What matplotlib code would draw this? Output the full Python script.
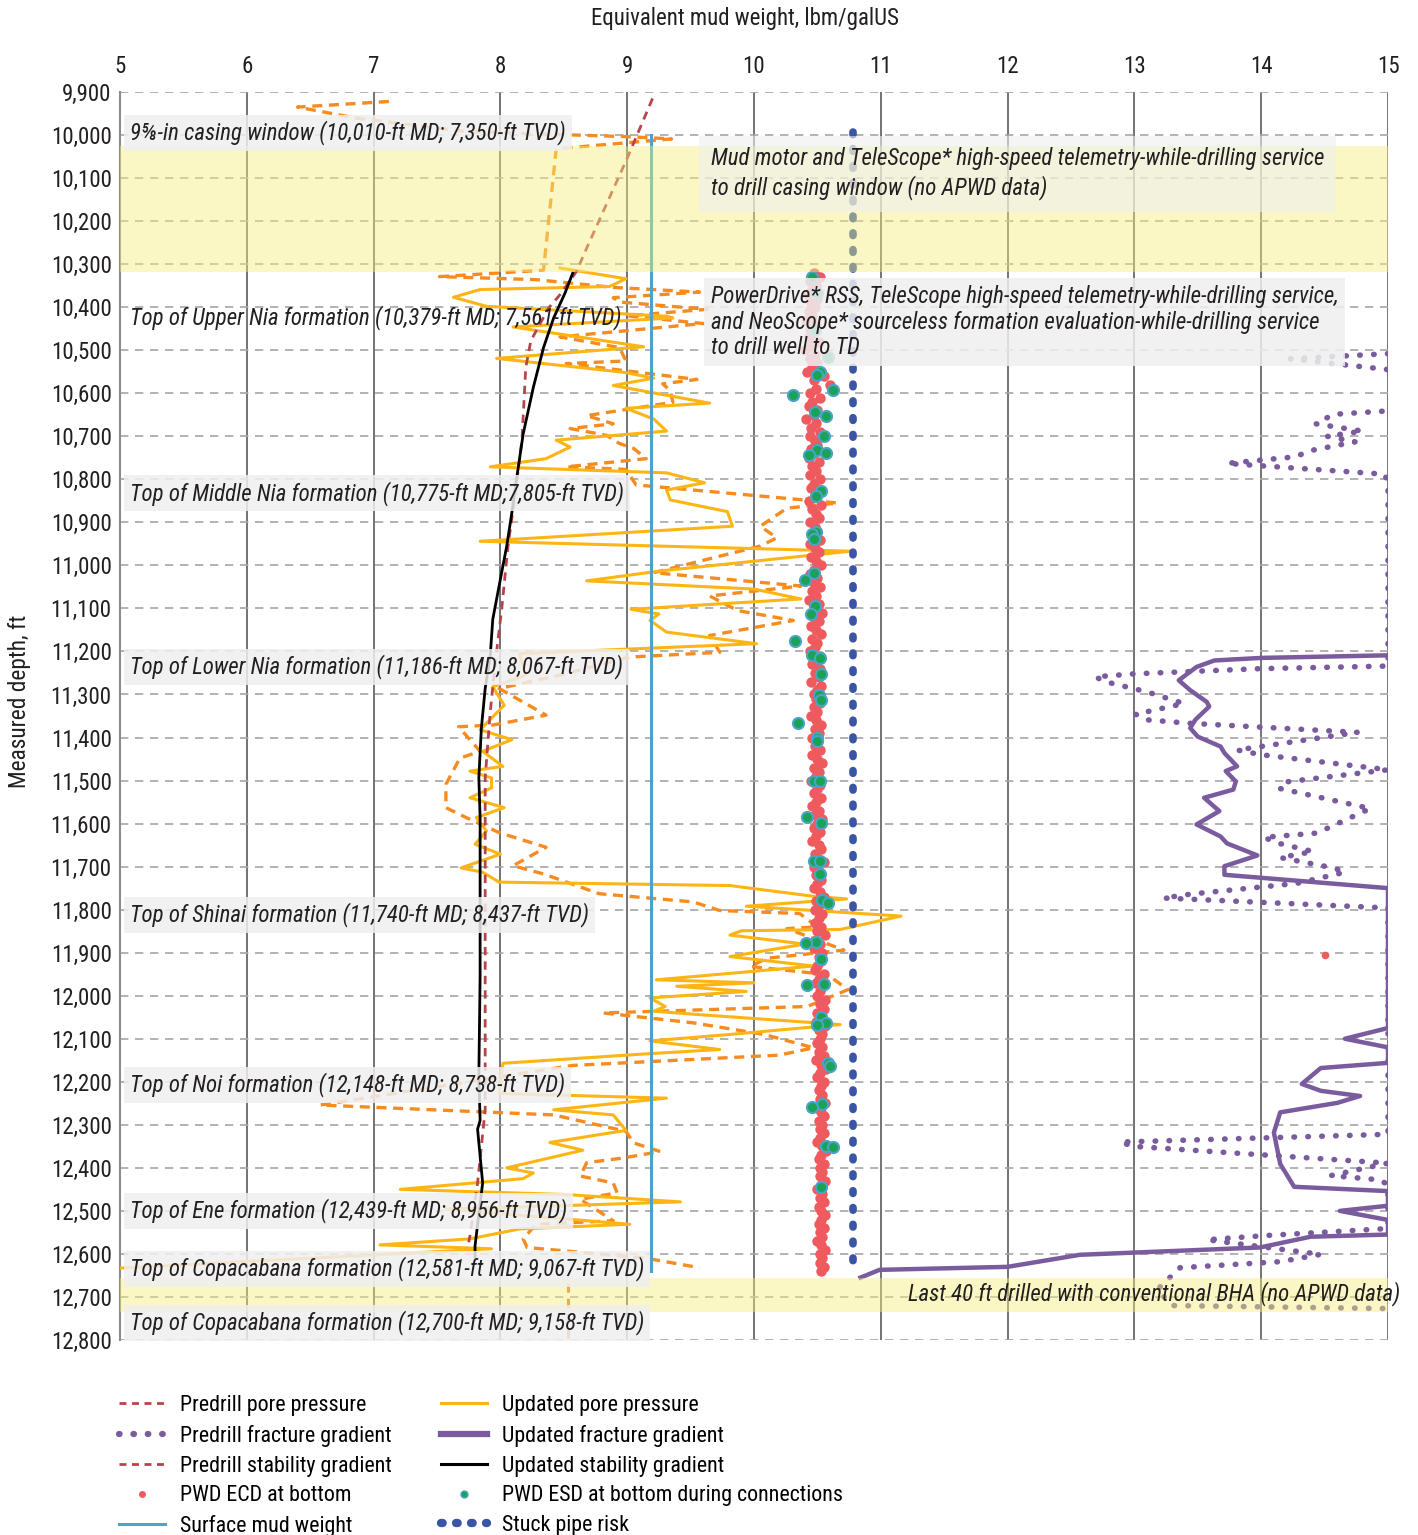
import matplotlib
matplotlib.use("Agg")
import matplotlib.pyplot as plt
from matplotlib import font_manager
from matplotlib.lines import Line2D

# condensed sans for the Univers Condensed look of the original
PREFERRED = ["Roboto Condensed", "Fira Sans Condensed", "Barlow Semi Condensed",
             "IBM Plex Sans Condensed", "Archivo Narrow", "PT Sans Narrow",
             "Liberation Sans Narrow"]
available = {f.name for f in font_manager.fontManager.ttflist}
FONT = next((n for n in PREFERRED if n in available), "DejaVu Sans")
plt.rcParams["font.family"] = [FONT, "DejaVu Sans"]

# ---------------- data (mud weight in lbm/galUS, depth in ft MD) ----------------
# predrill pore pressure (orange dashed)
PP_PRE_MW = [7.12, 6.40, 6.85, 7.73, 9.02, 9.35, 8.44, 8.34, 7.52, 8.28, 8.89, 9.57, 8.89, 8.94,
             9.63, 9.00, 9.60, 8.47, 8.94, 8.99, 8.52, 9.55, 9.28, 9.34, 9.36, 8.68, 8.89, 8.55,
             8.84, 8.94, 9.05, 9.15, 8.52, 8.99, 9.07, 10.66, 10.26, 10.05, 10.18, 10.05, 9.21,
             10.37, 9.65, 9.87, 10.31, 9.65, 9.73, 9.02, 8.47, 7.99, 8.36, 7.94, 7.67, 7.84, 7.68,
             7.57, 7.57, 7.73, 7.99, 8.36, 8.10, 8.34, 8.78, 9.52, 9.73, 10.36, 10.50, 10.26,
             10.71, 10.10, 9.97, 10.58, 10.74, 10.42, 8.81, 9.52, 10.08, 10.47, 10.20, 8.57,
             6.58, 8.42, 8.99, 9.05, 9.26, 8.97, 8.68, 8.63, 8.89, 8.92, 8.63, 8.89, 8.28, 8.18,
             8.21, 9.15, 9.57]
PP_PRE_MD = [9922, 9935, 9960, 9992, 10004, 10009, 10032, 10314, 10329, 10336, 10354, 10365, 10378,
             10388, 10405, 10420, 10438, 10469, 10494, 10525, 10531, 10568, 10578, 10594, 10621,
             10652, 10671, 10682, 10698, 10717, 10728, 10752, 10771, 10777, 10813, 10855, 10867,
             10909, 10936, 10955, 11017, 11048, 11071, 11105, 11128, 11163, 11202, 11213, 11255,
             11286, 11348, 11371, 11375, 11432, 11448, 11509, 11563, 11586, 11621, 11655, 11698,
             11717, 11763, 11782, 11802, 11809, 11840, 11844, 11894, 11913, 11932, 11951, 11986,
             12025, 12040, 12063, 12090, 12121, 12138, 12162, 12254, 12277, 12315, 12342, 12362,
             12377, 12388, 12419, 12435, 12458, 12473, 12523, 12531, 12565, 12585, 12610, 12632]
PP_TAIL_MW = [8.53, 8.53]
PP_TAIL_MD = [12668, 12796]

# updated pore pressure (gold solid)
PP_UPD_MW = [8.47, 8.99, 8.86, 7.84, 7.63, 7.89, 9.31, 9.36, 8.10, 9.13, 7.97, 8.99, 9.21, 8.89,
             9.65, 8.99, 9.21, 9.31, 8.44, 8.55, 8.36, 7.92, 9.31, 9.61, 9.31, 9.34, 9.79, 9.83,
             7.84, 10.76, 9.26, 8.68, 10.00, 10.37, 9.03, 9.25, 9.18, 9.31, 10.02, 8.15, 8.20,
             7.94, 8.03, 7.84, 8.09, 7.86, 8.02, 7.76, 7.93, 7.93, 7.76, 8.03, 7.81, 7.89, 7.80,
             8.00, 7.69, 7.86, 7.99, 9.81, 10.47, 10.73, 9.94, 11.16, 10.68, 9.90, 9.81, 10.40,
             9.81, 10.47, 9.23, 10.00, 9.39, 9.94, 9.18, 9.30, 9.21, 9.57, 10.68, 9.81, 9.18,
             9.73, 9.10, 8.02, 7.99, 9.31, 8.42, 8.89, 8.99, 8.39, 8.65, 8.05, 8.26, 8.18, 7.21,
             8.52, 9.42, 8.58, 7.57, 9.02, 8.15, 7.76, 7.05, 7.93, 5.00]
PP_UPD_MD = [10309, 10334, 10352, 10359, 10377, 10398, 10421, 10425, 10446, 10492, 10519, 10552,
             10565, 10582, 10623, 10635, 10660, 10688, 10709, 10725, 10752, 10771, 10785, 10808,
             10825, 10848, 10875, 10909, 10944, 10967, 11013, 11036, 11055, 11078, 11102, 11113,
             11128, 11155, 11182, 11205, 11255, 11282, 11325, 11382, 11405, 11432, 11467, 11478,
             11494, 11517, 11540, 11563, 11586, 11617, 11648, 11671, 11703, 11713, 11736, 11744,
             11769, 11775, 11792, 11815, 11846, 11849, 11859, 11880, 11909, 11931, 11963, 11970,
             11978, 11990, 12005, 12025, 12036, 12044, 12067, 12090, 12105, 12125, 12136, 12157,
             12227, 12238, 12265, 12277, 12313, 12341, 12359, 12400, 12412, 12425, 12450, 12462,
             12479, 12487, 12496, 12531, 12542, 12565, 12579, 12588, 12633]

# predrill fracture gradient (purple dotted); >15 runs off the axis
FG_PRE_MW = [15.0, 14.23, 15.0, 15.3, 15.0, 14.57, 14.43, 14.80, 14.52, 14.74, 14.41, 14.26, 13.73,
             14.02, 14.97, 15.0, 15.0, 15.0, 13.99, 13.00, 12.69, 12.78, 13.10, 13.39, 13.01,
             13.10, 13.44, 14.76, 13.81, 14.00, 15.0, 14.20, 14.14, 14.86, 14.44, 14.02, 14.14,
             14.41, 14.15, 14.57, 14.66, 14.28, 13.44, 13.23, 15.0, 15.0, 12.89, 12.99, 15.0,
             14.55, 14.94, 15.0, 15.0, 14.05, 13.57, 14.47, 14.15, 13.36, 13.18, 13.30, 15.0]
FG_PRE_MD = [10508, 10520, 10545, 10590, 10641, 10649, 10671, 10688, 10700, 10713, 10732, 10748,
             10763, 10769, 10788, 10805, 11209, 11234, 11240, 11252, 11259, 11271, 11294, 11321,
             11346, 11359, 11367, 11388, 11429, 11440, 11475, 11503, 11518, 11565, 11622, 11632,
             11646, 11665, 11679, 11703, 11713, 11739, 11764, 11773, 11796, 12322, 12340, 12350,
             12389, 12418, 12428, 12440, 12541, 12557, 12567, 12601, 12618, 12632, 12683, 12720,
             12727]

# updated fracture gradient (purple solid)
FG_UPD_MW = [15.0, 14.00, 13.63, 13.49, 13.35, 13.44, 13.57, 13.59, 13.48, 13.44, 13.50, 13.68,
             13.71, 13.81, 13.72, 13.80, 13.78, 13.55, 13.67, 13.49, 13.68, 13.73, 13.97, 13.71,
             13.71, 15.0, 15.0, 14.66, 15.0, 15.0, 14.47, 14.32, 14.47, 14.78, 14.60, 14.15,
             14.10, 14.15, 14.26, 15.0, 15.0, 14.62, 15.0, 15.0, 14.39, 13.99, 12.57, 12.00,
             10.99, 10.84]
FG_UPD_MD = [11209, 11215, 11221, 11236, 11267, 11290, 11317, 11328, 11359, 11378, 11398, 11421,
             11436, 11467, 11478, 11502, 11521, 11540, 11571, 11602, 11630, 11646, 11674, 11699,
             11719, 11750, 12075, 12100, 12120, 12156, 12168, 12205, 12221, 12233, 12249, 12271,
             12318, 12391, 12444, 12454, 12488, 12500, 12521, 12555, 12560, 12585, 12602, 12630,
             12637, 12655]

# predrill stability gradient (brown-red dashed)
SG_PRE_MW = [9.20, 9.00, 8.68, 8.60, 8.47, 8.38, 8.24, 8.20, 8.17, 8.11, 8.06, 8.01, 7.96, 7.92,
             7.88, 7.88, 7.88, 7.88, 7.82, 7.76, 7.75]
SG_PRE_MD = [9915, 10054, 10263, 10317, 10371, 10402, 10478, 10540, 10709, 10848, 10955, 11102,
             11225, 11340, 11494, 11725, 11955, 12265, 12435, 12558, 12573]

# updated stability gradient (black solid)
SG_UPD_MW = [8.57, 8.51, 8.42, 8.34, 8.26, 8.18, 8.13, 8.09, 8.05, 8.00, 7.94, 7.92, 7.88, 7.85,
             7.83, 7.84, 7.84, 7.84, 7.83, 7.84, 7.82, 7.86, 7.80, 7.80]
SG_UPD_MD = [10321, 10367, 10425, 10494, 10586, 10694, 10794, 10878, 10955, 11032, 11125, 11209,
             11286, 11378, 11494, 11586, 11725, 11955, 12186, 12290, 12310, 12435, 12581, 12608]

# surface mud weight and stuck pipe risk
SMW_MW = [9.19, 9.19]
SMW_MD = [10000, 12640]
STUCK_MW = [10.78, 10.78]
STUCK_MD = [9993, 12642]

# PWD ECD at bottom, one reading every 10 ft from 10,320 ft
ECD_MD = list(range(10320, 12650, 10))
ECD_MW = [
    10.47, 10.52, 10.44, 10.49, 10.46, 10.42, 10.50, 10.45, 10.48, 10.43,
    10.46, 10.41, 10.49, 10.44, 10.47, 10.43, 10.51, 10.45, 10.40, 10.48,
    10.44, 10.50, 10.46, 10.42, 10.55, 10.47, 10.60, 10.49, 10.44, 10.52,
    10.46, 10.43, 10.50, 10.47, 10.41, 10.49, 10.45, 10.52, 10.44, 10.48,
    10.50, 10.45, 10.47, 10.43, 10.51, 10.46, 10.49, 10.44, 10.52, 10.47,
    10.45, 10.50, 10.48, 10.43, 10.53, 10.46, 10.49, 10.51, 10.44, 10.48,
    10.50, 10.46, 10.52, 10.44, 10.48, 10.51, 10.45, 10.49, 10.53, 10.47,
    10.44, 10.50, 10.47, 10.52, 10.46, 10.49, 10.43, 10.51, 10.48, 10.54,
    10.47, 10.51, 10.45, 10.49, 10.53, 10.46, 10.50, 10.48, 10.44, 10.52,
    10.49, 10.46, 10.52, 10.48, 10.51, 10.45, 10.53, 10.50, 10.47, 10.49,
    10.52, 10.47, 10.50, 10.45, 10.49, 10.53, 10.48, 10.51, 10.46, 10.50,
    10.48, 10.52, 10.46, 10.50, 10.54, 10.47, 10.51, 10.49, 10.45, 10.52,
    10.50, 10.47, 10.53, 10.49, 10.46, 10.51, 10.48, 10.54, 10.50, 10.47,
    10.52, 10.49, 10.46, 10.51, 10.53, 10.48, 10.50, 10.55, 10.47, 10.51,
    10.49, 10.53, 10.50, 10.47, 10.52, 10.55, 10.49, 10.51, 10.48, 10.54,
    10.51, 10.48, 10.53, 10.50, 10.56, 10.49, 10.52, 10.47, 10.54, 10.51,
    10.53, 10.50, 10.48, 10.55, 10.51, 10.49, 10.54, 10.52, 10.50, 10.56,
    10.52, 10.55, 10.50, 10.53, 10.49, 10.56, 10.51, 10.54, 10.52, 10.50,
    10.54, 10.51, 10.55, 10.49, 10.53, 10.57, 10.52, 10.50, 10.55, 10.53,
    10.51, 10.54, 10.52, 10.56, 10.50, 10.53, 10.55, 10.51, 10.54, 10.52,
    10.55, 10.52, 10.50, 10.54, 10.57, 10.53, 10.51, 10.55, 10.52, 10.54,
    10.52, 10.56, 10.53, 10.50, 10.54, 10.52, 10.55, 10.51, 10.53, 10.56,
    10.53, 10.51, 10.55, 10.52, 10.54, 10.50, 10.53, 10.56, 10.52, 10.54,
    10.52, 10.55, 10.53,
]
ECD_OUT_MW = [14.50]
ECD_OUT_MD = [11905]

# PWD ESD at bottom during connections
ESD_MW = [10.46, 10.50, 10.48, 10.58, 10.52, 10.50, 10.62, 10.31, 10.48, 10.57, 10.55, 10.50,
          10.57, 10.43, 10.53, 10.49, 10.49, 10.46, 10.47, 10.47, 10.40, 10.48, 10.45, 10.32,
          10.46, 10.52, 10.53, 10.51, 10.53, 10.35, 10.50, 10.50, 10.47, 10.52, 10.42, 10.53,
          10.47, 10.52, 10.52, 10.54, 10.58, 10.49, 10.41, 10.53, 10.55, 10.42, 10.53, 10.57,
          10.50, 10.58, 10.60, 10.54, 10.46, 10.57, 10.62, 10.53]
ESD_MD = [10330, 10367, 10453, 10516, 10551, 10558, 10593, 10604, 10644, 10653, 10700, 10732,
          10738, 10744, 10828, 10838, 10923, 10926, 10938, 11017, 11035, 11095, 11113, 11175,
          11208, 11215, 11252, 11302, 11312, 11367, 11400, 11408, 11500, 11500, 11585, 11598,
          11688, 11688, 11717, 11777, 11785, 11875, 11877, 11915, 11972, 11975, 12049, 12063,
          12069, 12157, 12163, 12252, 12258, 12349, 12352, 12444]

FORMATION_LABELS = [
    "9\u215d-in casing window (10,010-ft MD; 7,350-ft TVD)",
    "Top of Upper Nia formation (10,379-ft MD; 7,561-ft TVD)",
    "Top of Middle Nia formation (10,775-ft MD;7,805-ft TVD)",
    "Top of Lower Nia formation (11,186-ft MD; 8,067-ft TVD)",
    "Top of Shinai formation (11,740-ft MD; 8,437-ft TVD)",
    "Top of Noi formation (12,148-ft MD; 8,738-ft TVD)",
    "Top of Ene formation (12,439-ft MD; 8,956-ft TVD)",
    "Top of Copacabana formation (12,581-ft MD; 9,067-ft TVD)",
    "Top of Copacabana formation (12,700-ft MD; 9,158-ft TVD)",
]
LABEL_MD = [9995, 10425, 10832, 11236, 11812, 12207, 12500, 12635, 12760]

# ---------------- colours ----------------
C_GOLD = "#FDB515"
C_ORANGE = "#F68B1F"
C_BROWN = "#B5454A"
C_PURPLE = "#7A5C9E"
C_NAVY = "#3A55A5"
C_SKY = "#4BA3C7"
C_RED = "#EF5A5F"
C_GREEN = "#1AA356"
C_TEXT = "#231F20"
FS = 16.5

fig = plt.figure(figsize=(14.18, 15.35), dpi=100)
ax = fig.add_axes([120 / 1418, 1 - 1340 / 1535, 1268 / 1418, 1248 / 1535])

ax.set_xlim(5, 15)
ax.set_ylim(12800, 9900)

# grid
for v in range(6, 16):
    ax.axvline(v, color="#4d4d4d", lw=1.1, zorder=1)
for d in range(9900, 12801, 100):
    ax.axhline(d, color="#a6a6a6", lw=1.2, ls=(0, (5, 4)), zorder=1)

# data
ax.plot(PP_PRE_MW, PP_PRE_MD, color=C_ORANGE, lw=2.4, ls=(0, (3, 2)), zorder=3)
ax.plot(PP_TAIL_MW, PP_TAIL_MD, color="#D0783C", lw=2.2, ls=(0, (3, 2)), zorder=3)
ax.plot(PP_UPD_MW, PP_UPD_MD, color=C_GOLD, lw=2.2, zorder=3)
ax.plot(SG_PRE_MW, SG_PRE_MD, color=C_BROWN, lw=2.0, ls=(0, (3, 2.2)), zorder=3)
ax.plot(SG_UPD_MW, SG_UPD_MD, color="black", lw=2.0, zorder=4)
ax.plot(FG_PRE_MW, FG_PRE_MD, color=C_PURPLE, lw=4.0, ls=(0, (0.1, 2.4)),
        dash_capstyle="round", zorder=3)
ax.plot(FG_UPD_MW, FG_UPD_MD, color=C_PURPLE, lw=3.2, zorder=3, solid_joinstyle="round")
ax.plot(SMW_MW, SMW_MD, color=C_SKY, lw=2.2, zorder=3)
ax.plot(ECD_MW, ECD_MD, "o", color=C_RED, ms=7.5, mec="none", zorder=4)
ax.plot(ECD_OUT_MW, ECD_OUT_MD, "o", color=C_RED, ms=5.5, mec="none", zorder=4)
ax.plot(ESD_MW, ESD_MD, "o", color=C_GREEN, ms=8, mec=C_SKY, mew=1.5, zorder=5)
ax.plot(STUCK_MW, STUCK_MD, color=C_NAVY, lw=5.5, ls=(0, (0.35, 1.85)),
        dash_capstyle="round", zorder=4)

# shaded intervals without APWD data
ax.axhspan(10025, 10318, color="#F6EE7E", alpha=0.45, lw=0, zorder=6)
ax.axhspan(12656, 12735, color="#F6EE7E", alpha=0.45, lw=0, zorder=6)

# annotations
box = dict(boxstyle="square,pad=0.25", fc="#EFEFEF", ec="none", alpha=0.85)
for i, (txt, md) in enumerate(zip(FORMATION_LABELS, LABEL_MD)):
    ax.text(5.08, md, txt, fontsize=FS, style="italic", va="center", ha="left",
            color=C_TEXT, zorder=8, bbox=None if i == 1 else box)

ax.text(9.66, 10090,
        "Mud motor and TeleScope* high-speed telemetry-while-drilling service\n"
        "to drill casing window (no APWD data)",
        fontsize=FS, style="italic", va="center", ha="left", color=C_TEXT,
        linespacing=1.25, zorder=8,
        bbox=dict(boxstyle="square,pad=0.5", fc="#EFEFEF", ec="none", alpha=0.6))
ax.text(9.66, 10435,
        "PowerDrive* RSS, TeleScope high-speed telemetry-while-drilling service,\n"
        "and NeoScope* sourceless formation evaluation-while-drilling service\n"
        "to drill well to TD",
        fontsize=FS, style="italic", va="center", ha="left", color=C_TEXT,
        linespacing=1.15, zorder=8,
        bbox=dict(boxstyle="square,pad=0.3", fc="#EFEFEF", ec="none", alpha=0.85))
ax.text(15.1, 12693, "Last 40 ft drilled with conventional BHA (no APWD data)",
        fontsize=FS, style="italic", va="center", ha="right", color=C_TEXT,
        zorder=8, clip_on=False)

# axes styling
ax.xaxis.tick_top()
ax.set_xticks(range(5, 16))
ax.set_yticks(range(9900, 12801, 100))
ax.set_yticklabels([f"{d:,}" for d in range(9900, 12801, 100)])
ax.tick_params(axis="x", length=0, labelsize=FS, pad=10, colors=C_TEXT)
ax.tick_params(axis="y", length=0, labelsize=FS, pad=6, colors=C_TEXT)
for side in ["top", "right", "bottom"]:
    ax.spines[side].set_visible(False)
ax.spines["left"].set_color("#8c8c8c")
ax.spines["left"].set_linewidth(1.5)

fig.text(745 / 1418, 1 - 19 / 1535, "Equivalent mud weight, lbm/galUS", fontsize=16.5,
         ha="center", va="center", color=C_TEXT)
fig.text(20 / 1418, 1 - 701 / 1535, "Measured depth, ft", fontsize=16.8, rotation=90,
         ha="center", va="center", color=C_TEXT)

# legend
handles = [
    Line2D([], [], color=C_BROWN, lw=2, ls=(0, (2.5, 2))),
    Line2D([], [], color=C_PURPLE, lw=4.5, ls=(0, (0.1, 2.2)), dash_capstyle="round"),
    Line2D([], [], color=C_BROWN, lw=2, ls=(0, (2.5, 2))),
    Line2D([], [], color=C_RED, marker="o", ms=5, ls="none", mec="none"),
    Line2D([], [], color=C_SKY, lw=2.2),
    Line2D([], [], color=C_GOLD, lw=2.2),
    Line2D([], [], color=C_PURPLE, lw=4.5),
    Line2D([], [], color="black", lw=2.2),
    Line2D([], [], color=C_GREEN, marker="o", ms=5, ls="none", mec=C_SKY, mew=1),
    Line2D([], [], color=C_NAVY, lw=6, ls=(0, (0.2, 1.6)), dash_capstyle="round"),
]
labels = ["Predrill pore pressure", "Predrill fracture gradient", "Predrill stability gradient",
          "PWD ECD at bottom", "Surface mud weight", "Updated pore pressure",
          "Updated fracture gradient", "Updated stability gradient",
          "PWD ESD at bottom during connections", "Stuck pipe risk"]
fig.legend(handles, labels, loc="upper left", bbox_to_anchor=(119 / 1418, 1 - 1395 / 1535),
           ncol=2, frameon=False, fontsize=15.8, handlelength=2.1, handletextpad=0.7,
           columnspacing=2.2, labelspacing=0.4, borderpad=0, borderaxespad=0)

fig.savefig("out.png", dpi=100)
